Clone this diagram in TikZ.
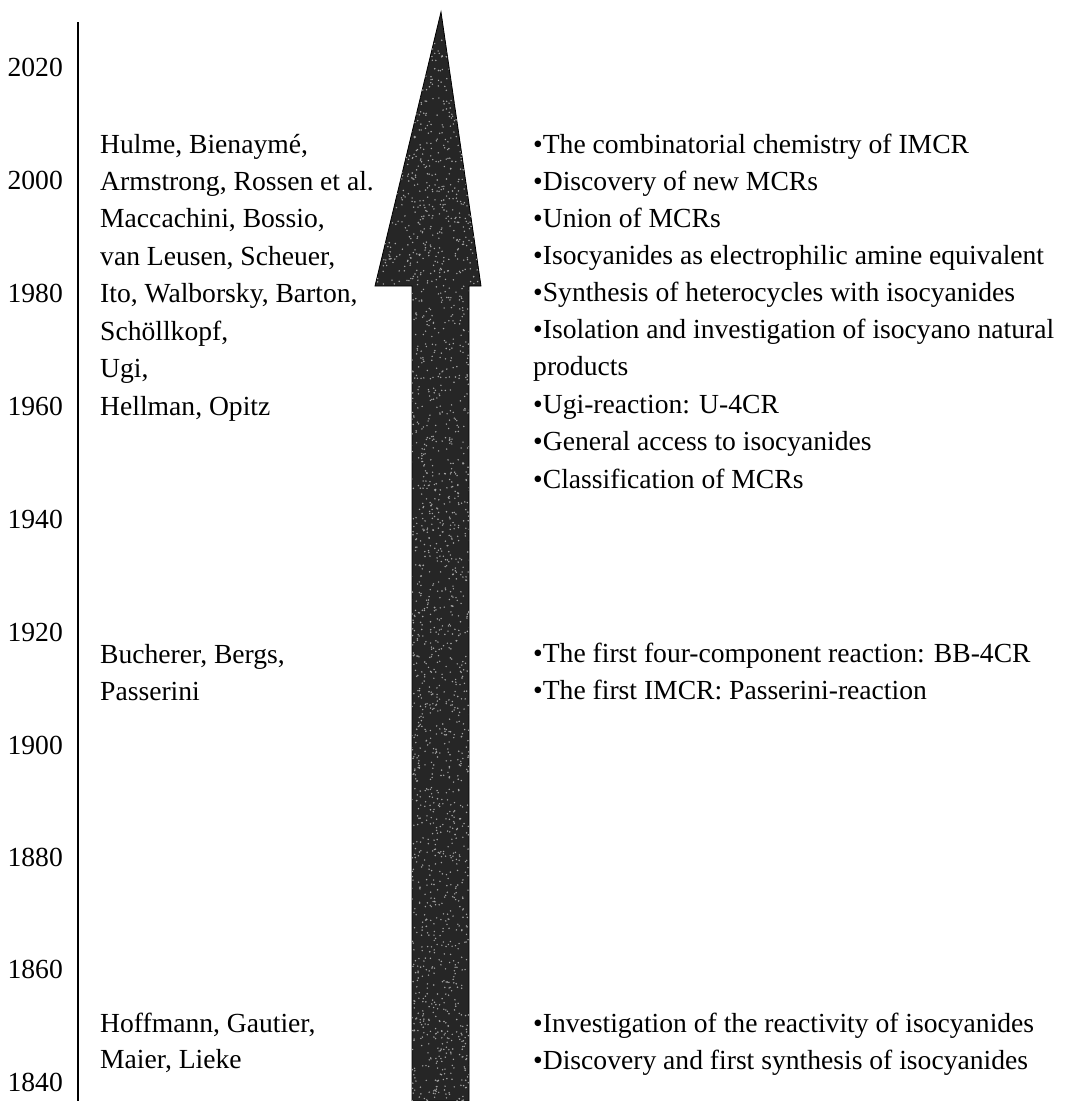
\documentclass[tikz,border=0pt]{standalone}
\usepackage{fontspec}
\setmainfont{Liberation Serif}
\begin{document}
\begin{tikzpicture}[x=1pt,y=-1pt,
  txt/.style={inner sep=0pt, font=\fontsize{27.6}{34}\selectfont},
  yearlbl/.style={txt, anchor=mid east},
  namelbl/.style={txt, anchor=mid west},
  eventlbl/.style={txt, anchor=mid west},
  axisline/.style={line width=2pt, black},
  bigarrow/.style={fill=black!85, draw=black, line width=0.8pt}]
\useasboundingbox (0,0) rectangle (1069,1101);
\fill[white] (0,0) rectangle (1069,1101);

% axis
\coordinate (axtop) at (78,22);
\coordinate (axbot) at (78,1101);
\draw[axisline] (axtop) -- (axbot);

% years
\foreach \yr/\yy in {2020/68,2000/181,1980/294,1960/407,1940/520,1920/633,1900/746,1880/858,1860/970,1840/1083}
  \node[yearlbl] (y\yr) at (63,\yy+6) {\yr};

% big arrow
\coordinate (tip) at (441,12);
\coordinate (hl) at (375,286);
\coordinate (hr) at (481,286);
\coordinate (sl) at (412,286);
\coordinate (sr) at (469,286);
\coordinate (bl) at (412,1101);
\coordinate (br) at (469,1101);
\draw[bigarrow] (tip) -- (hr) -- (sr) -- (br) -- (bl) -- (sl) -- (hl) -- cycle;
\begin{scope}
  \clip (tip) -- (hr) -- (sr) -- (br) -- (bl) -- (sl) -- (hl) -- cycle;
  \pgfmathsetseed{7}
  \foreach \i in {1,...,3200}{
    \pgfmathsetmacro{\px}{377+102*rnd}
    \pgfmathsetmacro{\py}{40+1061*rnd}
    \fill[black!35] (\px,\py) circle (0.8);
  }
\end{scope}

% names
\foreach \t/\yy [count=\k] in {{Hulme, Bienaymé,}/145,{Armstrong, Rossen et al.}/182,{Maccachini, Bossio,}/219,{van Leusen, Scheuer,}/257,{Ito, Walborsky, Barton,}/294,{Schöllkopf,}/332,{Ugi,}/369,{Hellman, Opitz}/407,{Bucherer, Bergs,}/655,{Passerini}/692,{Hoffmann, Gautier,}/1024,{Maier, Lieke}/1060}
  \node[namelbl] (n\k) at (100,\yy+6) {\t};

% events
\foreach \t/\yy [count=\k] in {{•The combinatorial chemistry of IMCR}/145,{•Discovery of new MCRs}/182,{•Union of MCRs}/219,{•Isocyanides as electrophilic amine equivalent}/256,{•Synthesis of heterocycles with isocyanides}/293,{•Isolation and investigation of isocyano natural}/330,{products}/367,{•Ugi-reaction: U-4CR}/405,{•General access to isocyanides}/442,{•Classification of MCRs}/480,{•The first four-component reaction: BB-4CR}/654,{•The first IMCR: Passerini-reaction}/691,{•Investigation of the reactivity of isocyanides}/1024,{•Discovery and first synthesis of isocyanides}/1061}
  \node[eventlbl] (e\k) at (533,\yy+6) {\t};
\end{tikzpicture}
\end{document}
